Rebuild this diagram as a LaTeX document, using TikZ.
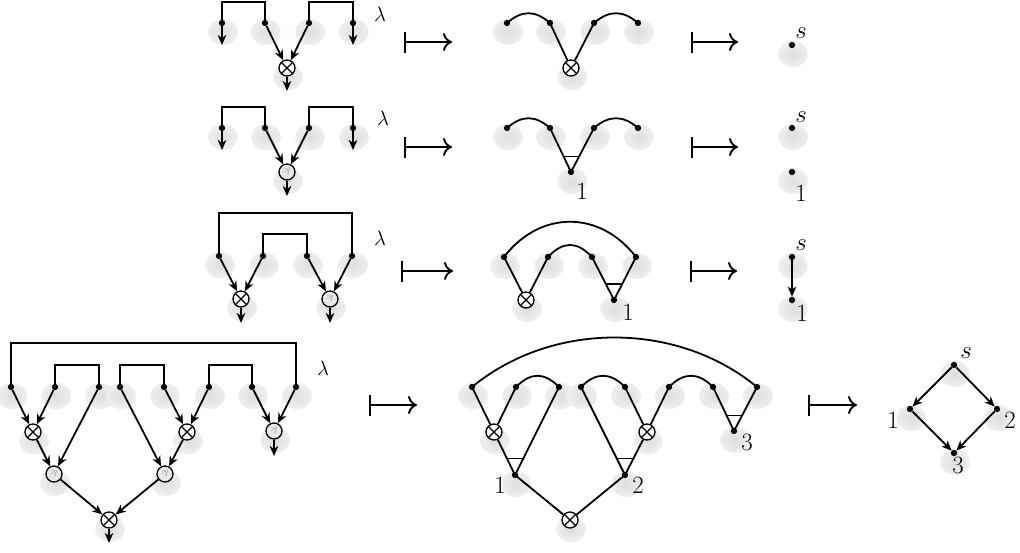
\documentclass[tikz,border=0pt]{standalone}
\usetikzlibrary{arrows.meta,calc}
\pgfdeclarelayer{background}
\pgfsetlayers{background,main}
\pgfdeclareradialshading{softshadow}{\pgfpoint{0bp}{0bp}}{color(0bp)=(black!13); color(22bp)=(black!7); color(50bp)=(white)}
\newcommand\parsym{\rotatebox[origin=c]{180}{\&}}
\tikzset{
  dot/.style={circle,fill=black,inner sep=0pt,minimum size=6.3pt},
  tens/.style={circle,draw,line width=1.3pt,inner sep=0pt,minimum size=16pt,fill=white,
    path picture={\draw[line width=1.3pt] (path picture bounding box.south west) -- (path picture bounding box.north east)
      (path picture bounding box.north west) -- (path picture bounding box.south east);}},
  parr/.style={circle,draw,line width=1.3pt,inner sep=0pt,minimum size=16pt,fill=gray!18,text=gray!75,font=\fontsize{9}{9}\selectfont},
  edge/.style={line width=1.8pt},
  arr/.style={edge,-{Stealth[length=10pt,width=8.5pt,inset=3pt]}},
  mapsto/.style={line width=1.9pt,{Bar[width=21pt]}-{Computer Modern Rightarrow[length=9pt,width=18pt]}},
  lab/.style={inner sep=0pt,font=\fontsize{24}{28}\selectfont},
  lam/.style={inner sep=0pt,font=\fontsize{22}{26}\selectfont},
  barline/.style={line width=1.3pt},
}
\begin{document}
\begin{tikzpicture}[x=1pt,y=-1pt]
\useasboundingbox (0,0) rectangle (1020,552);

% ================= Row 1 =================
\node[dot] (a1) at (222,23) {};
\node[dot] (a2) at (265,23) {};
\node[dot] (a3) at (309,23) {};
\node[dot] (a4) at (353,23) {};
\node[tens] (a5) at (287,68) {};
\coordinate (a1e) at (222,45);
\coordinate (a4e) at (353,45);
\coordinate (a5e) at (287,91);
\draw[edge] (a1.center) -- ++(0,-21) -| (a2.center);
\draw[edge] (a3.center) -- ++(0,-21) -| (a4.center);
\draw[arr] (a1) -- (a1e);
\draw[arr] (a4) -- (a4e);
\draw[arr] (a2) -- (a5);
\draw[arr] (a3) -- (a5);
\draw[arr] (a5) -- (a5e);
\node[lam] (lam1) at (380,14) {$\lambda$};

\coordinate (m1a) at (404,42); \coordinate (m1b) at (452,42);
\coordinate (m2a) at (691,42); \coordinate (m2b) at (738,42);
\draw[mapsto] (m1a) -- (m1b);
\draw[mapsto] (m2a) -- (m2b);

\node[dot] (b1) at (507,23) {};
\node[dot] (b2) at (550,23) {};
\node[dot] (b3) at (594,23) {};
\node[dot] (b4) at (638,23) {};
\node[tens] (b5) at (571,68) {};
\draw[edge] (b1.center) .. controls +(15,-13) and +(-15,-13) .. (b2.center);
\draw[edge] (b3.center) .. controls +(15,-13) and +(-15,-13) .. (b4.center);
\draw[edge] (b2.center) -- (b5);
\draw[edge] (b3.center) -- (b5);

\node[dot] (c1) at (792,45) {};
\node[lab] (c1l) at (801,33) {$s$};

% ================= Row 2 =================
\node[dot] (f1) at (222,128) {};
\node[dot] (f2) at (265,128) {};
\node[dot] (f3) at (309,128) {};
\node[dot] (f4) at (353,128) {};
\node[parr] (f5) at (287,172) {\parsym};
\coordinate (f1e) at (222,150);
\coordinate (f4e) at (353,150);
\coordinate (f5e) at (287,196);
\draw[edge] (f1.center) -- ++(0,-21) -| (f2.center);
\draw[edge] (f3.center) -- ++(0,-21) -| (f4.center);
\draw[arr] (f1) -- (f1e);
\draw[arr] (f4) -- (f4e);
\draw[arr] (f2) -- (f5);
\draw[arr] (f3) -- (f5);
\draw[arr] (f5) -- (f5e);
\node[lam] (lam2) at (383,118) {$\lambda$};

\coordinate (m3a) at (404,147); \coordinate (m3b) at (452,147);
\coordinate (m4a) at (691,147); \coordinate (m4b) at (738,147);
\draw[mapsto] (m3a) -- (m3b);
\draw[mapsto] (m4a) -- (m4b);

\node[dot] (g1) at (507,128) {};
\node[dot] (g2) at (550,128) {};
\node[dot] (g3) at (594,128) {};
\node[dot] (g4) at (638,128) {};
\node[dot] (g5) at (571,172) {};
\draw[edge] (g1.center) .. controls +(15,-13) and +(-15,-13) .. (g2.center);
\draw[edge] (g3.center) .. controls +(15,-13) and +(-15,-13) .. (g4.center);
\draw[edge] (g2.center) -- (g5.center) -- (g3.center);
\draw[barline] ($(g5)!0.36!(g2)$) -- ($(g5)!0.36!(g3)$);
\node[lab] (g5l) at (582,191) {$1$};

\node[dot] (h1) at (792,128) {};
\node[lab] (h1l) at (801,117) {$s$};
\node[dot] (h2) at (792,172) {};
\node[lab] (h2l) at (801,193) {$1$};

% ================= Row 3 =================
\node[dot] (i1) at (219,256) {};
\node[dot] (i2) at (263,256) {};
\node[dot] (i3) at (307,256) {};
\node[dot] (i4) at (352,256) {};
\node[tens] (i5) at (241,299) {};
\node[parr] (i6) at (330,299) {\parsym};
\coordinate (i5e) at (241,323);
\coordinate (i6e) at (330,323);
\draw[edge] (i1.center) -- ++(0,-43) -| (i4.center);
\draw[edge] (i2.center) -- ++(0,-22) -| (i3.center);
\draw[arr] (i1) -- (i5);
\draw[arr] (i2) -- (i5);
\draw[arr] (i3) -- (i6);
\draw[arr] (i4) -- (i6);
\draw[arr] (i5) -- (i5e);
\draw[arr] (i6) -- (i6e);
\node[lam] (lam3) at (380,238) {$\lambda$};

\coordinate (m5a) at (401,271); \coordinate (m5b) at (453,271);
\coordinate (m6a) at (690,271); \coordinate (m6b) at (737,271);
\draw[mapsto] (m5a) -- (m5b);
\draw[mapsto] (m6a) -- (m6b);

\node[dot] (j1) at (504,257) {};
\node[dot] (j2) at (548,257) {};
\node[dot] (j3) at (592,257) {};
\node[dot] (j4) at (636,257) {};
\node[tens] (j5) at (526,300) {};
\node[dot] (j6) at (614,300) {};
\draw[edge] (j1.center) .. controls +(36,-47) and +(-36,-47) .. (j4.center);
\draw[edge] (j2.center) .. controls +(15,-16) and +(-15,-16) .. (j3.center);
\draw[edge] (j1.center) -- (j5);
\draw[edge] (j2.center) -- (j5);
\draw[edge] (j3.center) -- (j6.center) -- (j4.center);
\draw[barline] ($(j6)!0.37!(j3)$) -- ($(j6)!0.37!(j4)$);
\node[lab] (j6l) at (628,312) {$1$};

\node[dot] (k1) at (792,257) {};
\node[lab] (k1l) at (801,245) {$s$};
\node[dot] (k2) at (792,300) {};
\node[lab] (k2l) at (802,313) {$1$};
\draw[arr] (k1) -- (k2);

% ================= Row 4 =================
\node[dot] (p1) at (11,387) {};
\node[dot] (p2) at (55,387) {};
\node[dot] (p3) at (99,387) {};
\node[dot] (p4) at (120,387) {};
\node[dot] (p5) at (164,387) {};
\node[dot] (p6) at (209,387) {};
\node[dot] (p7) at (252,387) {};
\node[dot] (p8) at (296,387) {};
\node[tens] (q1) at (33,432) {};
\node[tens] (q2) at (187,432) {};
\node[parr] (q3) at (274,431) {\parsym};
\node[parr] (q4) at (54,474) {\parsym};
\node[parr] (q5) at (165,474) {\parsym};
\node[tens] (q6) at (109,520) {};
\coordinate (q3e) at (274,456);
\coordinate (q6e) at (109,543);
\draw[edge] (p1.center) -- ++(0,-44) -| (p8.center);
\draw[edge] (p2.center) -- ++(0,-22) -| (p3.center);
\draw[edge] (p4.center) -- ++(0,-22) -| (p5.center);
\draw[edge] (p6.center) -- ++(0,-22) -| (p7.center);
\draw[arr] (p1) -- (q1);
\draw[arr] (p2) -- (q1);
\draw[arr] (p3) -- (q4);
\draw[arr] (q1) -- (q4);
\draw[arr] (p4) -- (q5);
\draw[arr] (p5) -- (q2);
\draw[arr] (p6) -- (q2);
\draw[arr] (q2) -- (q5);
\draw[arr] (p7) -- (q3);
\draw[arr] (p8) -- (q3);
\draw[arr] (q3) -- (q3e);
\draw[arr] (q4) -- (q6);
\draw[arr] (q5) -- (q6);
\draw[arr] (q6) -- (q6e);
\node[lam] (lam4) at (323,368) {$\lambda$};

\coordinate (m7a) at (369,405); \coordinate (m7b) at (417,405);
\coordinate (m8a) at (808,405); \coordinate (m8b) at (857,405);
\draw[mapsto] (m7a) -- (m7b);
\draw[mapsto] (m8a) -- (m8b);

\node[dot] (r1) at (472,387) {};
\node[dot] (r2) at (516,387) {};
\node[dot] (r3) at (559,387) {};
\node[dot] (r4) at (581,387) {};
\node[dot] (r5) at (625,387) {};
\node[dot] (r6) at (669,387) {};
\node[dot] (r7) at (713,387) {};
\node[dot] (r8) at (757,387) {};
\node[tens] (u1) at (494,432) {};
\node[tens] (u2) at (647,432) {};
\node[dot] (v1) at (515,475) {};
\node[dot] (v2) at (625,475) {};
\node[dot] (v3) at (734,431) {};
\node[tens] (w) at (570,520) {};
\draw[edge] (r1.center) .. controls +(80,-66) and +(-80,-66) .. (r8.center);
\draw[edge] (r2.center) .. controls +(15,-15) and +(-15,-15) .. (r3.center);
\draw[edge] (r4.center) .. controls +(15,-15) and +(-15,-15) .. (r5.center);
\draw[edge] (r6.center) .. controls +(15,-15) and +(-15,-15) .. (r7.center);
\draw[edge] (r1.center) -- (u1);
\draw[edge] (u1) -- (v1.center);
\draw[edge] (r2.center) -- (u1);
\draw[edge] (r3.center) -- (v1.center);
\draw[edge] (r4.center) -- (v2.center);
\draw[edge] (r5.center) -- (u2);
\draw[edge] (r6.center) -- (u2);
\draw[edge] (u2) -- (v2.center);
\draw[edge] (r7.center) -- (v3.center) -- (r8.center);
\draw[edge] (v1.center) -- (w);
\draw[edge] (v2.center) -- (w);
\draw[barline] ($(v1)!0.19!(r1)$) -- ($(v1)!0.19!(r3)$);
\draw[barline] ($(v2)!0.19!(r4)$) -- ($(v2)!0.19!(r6)$);
\draw[barline] ($(v3)!0.36!(r7)$) -- ($(v3)!0.36!(r8)$);
\node[lab] (v1l) at (500,485) {$1$};
\node[lab] (v2l) at (638,485) {$2$};
\node[lab] (v3l) at (747,442) {$3$};

\node[dot] (s0) at (954,365) {};
\node[lab] (s0l) at (966,353) {$s$};
\node[dot] (s1) at (910,409) {};
\node[lab] (s1l) at (893,420) {$1$};
\node[dot] (s2) at (997,409) {};
\node[lab] (s2l) at (1010,420) {$2$};
\node[dot] (s3) at (954,453) {};
\node[lab] (s3l) at (958,465) {$3$};
\draw[arr] (s0) -- (s1);
\draw[arr] (s0) -- (s2);
\draw[arr] (s1) -- (s3);
\draw[arr] (s2) -- (s3);

% ================= shadows =================
\begin{pgfonlayer}{background}
\foreach \n in {a1,a2,a3,a4,a5,b1,b2,b3,b4,b5,c1,f1,f2,f3,f4,f5,g1,g2,g3,g4,g5,h1,h2,
  i1,i2,i3,i4,i5,i6,j1,j2,j3,j4,j5,j6,k1,k2,p1,p2,p3,p4,p5,p6,p7,p8,q1,q2,q3,q4,q5,q6,
  r1,r2,r3,r4,r5,r6,r7,r8,u1,u2,v1,v2,v3,w,s0,s1,s2,s3}
  \shade[shading=softshadow] ($(\n)+(1,9)$) ellipse [x radius=15pt, y radius=13pt];
\end{pgfonlayer}
\end{tikzpicture}
\end{document}
